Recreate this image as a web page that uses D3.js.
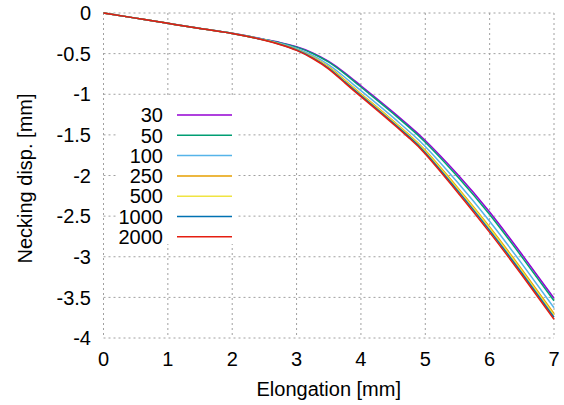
<!DOCTYPE html>
<html>
<head>
<meta charset="utf-8">
<script src="https://cdnjs.cloudflare.com/ajax/libs/d3/7.8.5/d3.min.js"></script>
<style>
  body { margin: 0; background: #fff; }
  text { font-family: "Liberation Sans", Arial, sans-serif; fill: #000; }
</style>
</head>
<body>
<div id="chart"></div>
<script>
// Elongation values shared by every series
var elongation = [0, 0.5, 1, 1.5, 2, 2.5, 2.75, 3, 3.25, 3.5, 3.75, 4, 4.25, 4.5, 4.75, 5, 5.5, 6, 6.5, 7];

// Necking displacement for each series
var neck30   = [0, -0.063, -0.127, -0.19, -0.25, -0.325, -0.365, -0.415, -0.49, -0.595, -0.735, -0.895, -1.055, -1.22, -1.39, -1.57, -1.985, -2.45, -2.97, -3.51];
var neck50   = [0, -0.063, -0.127, -0.19, -0.25, -0.326, -0.368, -0.42, -0.498, -0.606, -0.75, -0.911, -1.072, -1.237, -1.408, -1.59, -2.011, -2.48, -3.001, -3.541];
var neck100  = [0, -0.063, -0.127, -0.19, -0.251, -0.33, -0.376, -0.435, -0.522, -0.638, -0.791, -0.956, -1.118, -1.285, -1.458, -1.644, -2.084, -2.563, -3.085, -3.627];
var neck250  = [0, -0.063, -0.127, -0.19, -0.252, -0.332, -0.383, -0.448, -0.541, -0.664, -0.826, -0.994, -1.157, -1.326, -1.50, -1.69, -2.146, -2.633, -3.156, -3.70];
var neck500  = [0, -0.063, -0.127, -0.19, -0.252, -0.333, -0.385, -0.451, -0.546, -0.671, -0.835, -1.003, -1.167, -1.336, -1.51, -1.702, -2.161, -2.65, -3.174, -3.718];
var neck1000 = [0, -0.063, -0.127, -0.19, -0.252, -0.334, -0.388, -0.456, -0.553, -0.681, -0.848, -1.017, -1.181, -1.351, -1.525, -1.719, -2.183, -2.675, -3.20, -3.744];
var neck2000 = [0, -0.063, -0.127, -0.19, -0.252, -0.335, -0.39, -0.46, -0.56, -0.69, -0.86, -1.03, -1.195, -1.365, -1.54, -1.735, -2.205, -2.70, -3.225, -3.77];

var seriesNames = ["30", "50", "100", "250", "500", "1000", "2000"];
var seriesValues = [neck30, neck50, neck100, neck250, neck500, neck1000, neck2000];
var seriesColors = ["#9400d3", "#009e73", "#56b4e9", "#e69f00", "#f0e442", "#0072b2", "#e51e10"];

var xTicks = [0, 1, 2, 3, 4, 5, 6, 7];
var yTicks = [0, -0.5, -1, -1.5, -2, -2.5, -3, -3.5, -4];

var svgWidth = 564;
var svgHeight = 405;

var margin = { top: 13, right: 10, bottom: 67, left: 103.5 };
var width = 554 - margin.left;
var height = 338 - margin.top;

var svg = d3.select("#chart")
  .append("svg")
  .attr("width", svgWidth)
  .attr("height", svgHeight);

var chartGroup = svg.append("g")
  .attr("transform", `translate(${margin.left}, ${margin.top})`);

var xScale = d3.scaleLinear().domain([0, 7]).range([0, width]);
var yScale = d3.scaleLinear().domain([-4, 0]).range([height, 0]);

// dashed grid (gnuplot style, no solid border)
chartGroup.append("g").selectAll("line")
  .data(xTicks)
  .enter()
  .append("line")
  .attr("x1", d => xScale(d)).attr("x2", d => xScale(d))
  .attr("y1", 0).attr("y2", height)
  .attr("stroke", "#a0a0a0")
  .attr("stroke-dasharray", "2,3");

chartGroup.append("g").selectAll("line")
  .data(yTicks)
  .enter()
  .append("line")
  .attr("x1", 0).attr("x2", width)
  .attr("y1", d => yScale(d)).attr("y2", d => yScale(d))
  .attr("stroke", "#a0a0a0")
  .attr("stroke-dasharray", "2,3");

// tick labels
chartGroup.append("g").selectAll("text")
  .data(xTicks)
  .enter()
  .append("text")
  .attr("x", d => xScale(d))
  .attr("y", height + 28)
  .attr("text-anchor", "middle")
  .style("font-size", "20px")
  .text(d => d);

chartGroup.append("g").selectAll("text")
  .data(yTicks)
  .enter()
  .append("text")
  .attr("x", -12.5)
  .attr("y", d => yScale(d))
  .attr("dy", "0.36em")
  .attr("text-anchor", "end")
  .style("font-size", "20px")
  .text(d => d);

// axis titles
svg.append("text")
  .attr("x", margin.left + width / 2)
  .attr("y", 396)
  .attr("text-anchor", "middle")
  .style("font-size", "20px")
  .text("Elongation [mm]");

svg.append("text")
  .attr("transform", "rotate(-90)")
  .attr("x", -(margin.top + height / 2) - 3)
  .attr("y", 32)
  .attr("text-anchor", "middle")
  .style("font-size", "20px")
  .text("Necking disp. [mm]");

// curves (natural spline keeps the bends smooth)
var lineGen = d3.line()
  .x((d, i) => xScale(elongation[i]))
  .y(d => yScale(d))
  .curve(d3.curveNatural);

chartGroup.append("g").selectAll("path")
  .data(seriesValues)
  .enter()
  .append("path")
  .attr("d", d => lineGen(d))
  .attr("fill", "none")
  .attr("stroke", (d, i) => seriesColors[i])
  .attr("stroke-width", 1.5);

// legend with opaque white background
var legend = svg.append("g");

legend.append("rect")
  .attr("x", 116)
  .attr("y", 98)
  .attr("width", 122)
  .attr("height", 146)
  .attr("fill", "#fff");

var legendRows = legend.selectAll("g.row")
  .data(seriesNames)
  .enter()
  .append("g")
  .attr("class", "row")
  .attr("transform", (d, i) => `translate(0, ${115 + i * 20.3})`);

legendRows.append("text")
  .attr("x", 163)
  .attr("dy", "0.36em")
  .attr("text-anchor", "end")
  .style("font-size", "20px")
  .text(d => d);

legendRows.append("line")
  .attr("x1", 177).attr("x2", 232)
  .attr("y1", 0).attr("y2", 0)
  .attr("stroke", (d, i) => seriesColors[i])
  .attr("stroke-width", 1.5);
</script>
</body>
</html>
